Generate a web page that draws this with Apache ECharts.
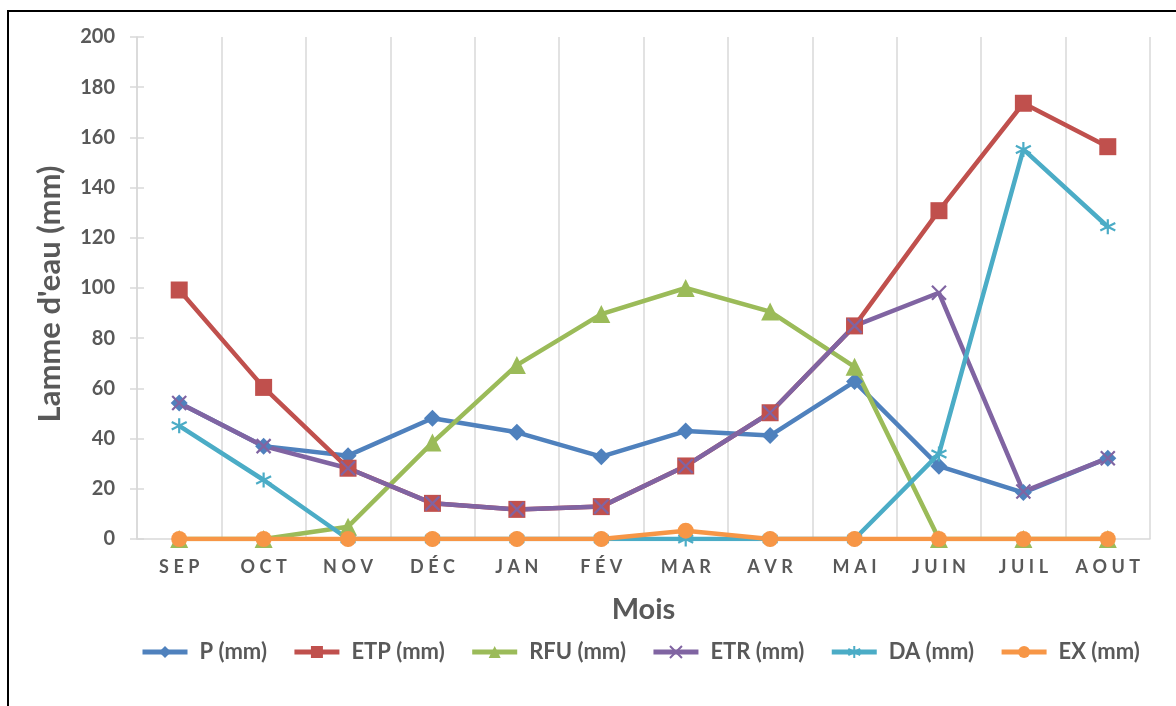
<!DOCTYPE html>
<html>
<head>
<meta charset="utf-8">
<script src="https://cdn.jsdelivr.net/npm/echarts@6/dist/echarts.min.js"></script>
<style>html,body{margin:0;padding:0;background:#fff;}#c{width:1176px;height:706px;}</style>
</head>
<body>
<div id="c"></div>
<script>
const categories = ["SEP","OCT","NOV","DÉC","JAN","FÉV","MAR","AVR","MAI","JUIN","JUIL","AOUT"];
const yTicks = [0,20,40,60,80,100,120,140,160,180,200];
const P   = [54.2, 37, 33.2, 48.1, 42.5, 32.8, 43, 41.2, 62.7, 29, 18.5, 32.2];
const ETP = [99.2, 60.4, 28.2, 14.2, 11.8, 12.9, 29.1, 50.3, 84.9, 130.8, 173.6, 156.3];
const RFU = [0, 0, 4.9, 38.4, 69.3, 89.6, 100, 90.6, 68.6, 0, 0, 0];
const ETR = [54.2, 37, 28.2, 14.2, 11.8, 12.9, 29.1, 50.3, 84.9, 98.1, 18.9, 32.2];
const DA  = [45.1, 23.5, 0, 0, 0, 0, 0, 0, 0, 33.9, 155.2, 124.4];
const EX  = [0, 0, 0, 0, 0, 0, 3.3, 0, 0, 0, 0, 0];
const seriesNames = ["P (mm)","ETP (mm)","RFU (mm)","ETR (mm)","DA (mm)","EX (mm)"];

const colors = ["#4F81BD","#C0504D","#9BBB59","#8064A2","#4BACC6","#F79646"];
const FONT = "Lato, 'Open Sans', sans-serif";
const TXT = "#595959";
const xPath = "path://M0,0L10,10M10,0L0,10";
const starPath = "path://M5,0L5,10M0.7,2.5L9.3,7.5M0.7,7.5L9.3,2.5";

function mk(name, data, color, symbol, size, stroke) {
  return {
    name: name, type: "line", data: data,
    symbol: symbol, symbolSize: size,
    lineStyle: { color: color, width: 4.5 },
    itemStyle: stroke ? { color: "rgba(0,0,0,0)", borderColor: color, borderWidth: 2.2 } : { color: color },
    emphasis: { disabled: true },
    animation: false
  };
}

const chart = echarts.init(document.getElementById("c"), null, { renderer: "canvas" });
chart.setOption({
  animation: false,
  textStyle: { fontFamily: FONT },
  graphic: [{
    type: "rect", shape: { x: 8, y: 11, width: 1200, height: 800 },
    style: { fill: "none", stroke: "#000", lineWidth: 2 }, silent: true
  }],
  grid: { left: 137, right: 26, top: 37, bottom: 167 },
  legend: {
    bottom: 38, left: 135,
    itemWidth: 45, itemHeight: 15, itemGap: 25,
    lineStyle: { width: 5 },
    textStyle: { color: TXT, fontSize: 22, fontWeight: "bold", fontFamily: FONT, padding: [0, 0, 0, 7] },
    data: seriesNames
  },
  xAxis: {
    type: "category", data: categories, boundaryGap: true,
    name: "Mois", nameLocation: "middle", nameGap: 56,
    nameTextStyle: { color: TXT, fontSize: 29, fontWeight: "bold", fontFamily: FONT },
    axisLine: { lineStyle: { color: "#d9d9d9", width: 1.5 } },
    axisTick: { show: false },
    axisLabel: {
      color: TXT, fontSize: 18, fontWeight: "bold", margin: 19, fontFamily: FONT,
      formatter: v => v.split("").join("\u2005")
    },
    splitLine: { show: true, lineStyle: { color: "#d9d9d9", width: 1.5 } }
  },
  yAxis: [{
    type: "value", min: 0, max: 200, interval: 20,
    name: "Lamme d'eau (mm)", nameLocation: "middle", nameGap: 72, nameRotate: 90,
    nameTextStyle: { color: TXT, fontSize: 31, fontWeight: "bold", fontFamily: FONT, padding: [0, 12, 0, 0] },
    axisLine: { show: true, lineStyle: { color: "#d9d9d9", width: 1.5 } },
    axisTick: { show: true, length: 7, lineStyle: { color: "#d9d9d9", width: 1.5 } },
    axisLabel: { color: TXT, fontSize: 20, fontWeight: "bold", margin: 22, fontFamily: FONT,
      formatter: v => yTicks.includes(v) ? String(v) : "" },
    splitLine: { show: false }
  }, {
    type: "value", min: 0, max: 200, interval: 20, position: "left",
    axisLine: { show: false },
    axisTick: { show: true, inside: true, length: 7, lineStyle: { color: "#d9d9d9", width: 1.5 } },
    axisLabel: { show: false }, splitLine: { show: false }
  }],
  series: [
    mk(seriesNames[0], P, colors[0], "diamond", 17, false),
    mk(seriesNames[1], ETP, colors[1], "rect", 17, false),
    mk(seriesNames[2], RFU, colors[2], "triangle", 18, false),
    mk(seriesNames[3], ETR, colors[3], xPath, 14, true),
    mk(seriesNames[4], DA, colors[4], starPath, 15, true),
    mk(seriesNames[5], EX, colors[5], "circle", 16, false)
  ]
});
</script>
</body>
</html>
